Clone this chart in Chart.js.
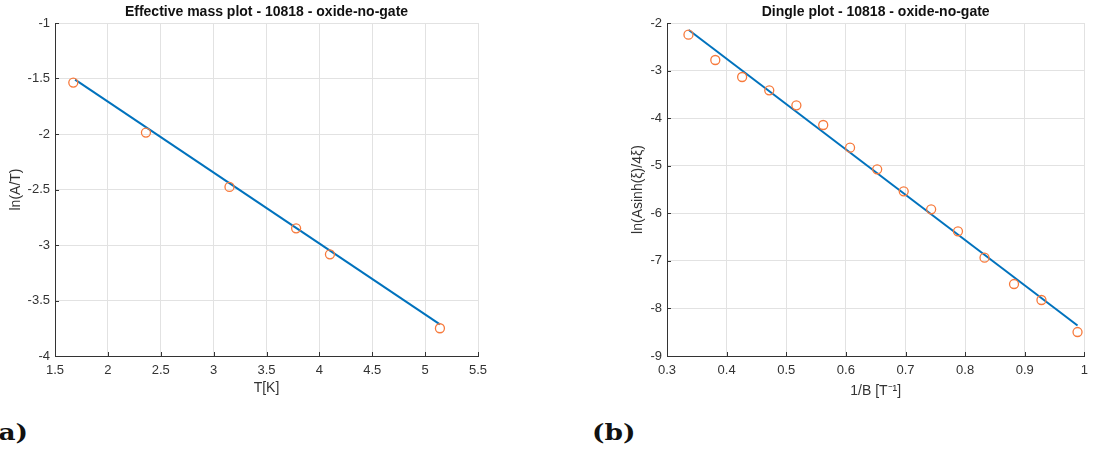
<!DOCTYPE html>
<html>
<head>
<meta charset="utf-8">
<script src="https://cdn.jsdelivr.net/npm/chart.js@4/dist/chart.umd.min.js"></script>
<style>
  html, body { margin: 0; padding: 0; background: #fff; overflow: hidden; }
  body { width: 1095px; height: 454px; position: relative; }
  .panel { position: absolute; top: 0; width: 500px; height: 410px; }
  .tag { position: absolute; font-family: "DejaVu Serif", serif; font-weight: bold; font-size: 22px; line-height: 22px; color: #111; transform: scaleX(1.2); transform-origin: left top; }
</style>
</head>
<body>
<div class="panel" style="left:0"><canvas id="massChart" width="500" height="410"></canvas></div>
<div class="panel" style="left:595px"><canvas id="dingleChart" width="500" height="410"></canvas></div>
<div class="tag" style="left:-14px; top:421px">(a)</div>
<div class="tag" style="left:592px; top:421px">(b)</div>
<script>
// effective mass plot (a)
const massT = [1.673, 2.36, 3.15, 3.78, 4.10, 5.14];
const massLnAT = [-1.537, -1.987, -2.477, -2.85, -3.084, -3.75];
const massFitT = [1.69, 5.14];
const massFitLn = [-1.51, -3.715];

// dingle plot (b)
const invB = [0.336, 0.381, 0.426, 0.4715, 0.517, 0.562, 0.607, 0.6525, 0.697, 0.743, 0.788, 0.8325, 0.882, 0.928, 0.9885];
const dingleLn = [-2.245, -2.778, -3.135, -3.415, -3.731, -4.144, -4.621, -5.076, -5.539, -5.917, -6.38, -6.933, -7.487, -7.823, -8.496];
const dingleFitX = [0.3365, 0.9885];
const dingleFitY = [-2.147, -8.36];

const axisColor = '#333333';
const gridColor = '#e2e2e2';
const lineBlue = '#0072BD';
const dotOrange = '#f77a3c';
const fontFam = '"Liberation Sans", Arial, sans-serif';

const toPts = (xs, ys) => xs.map((x, i) => ({x: x, y: ys[i]}));

// MATLAB style inward tick marks on the left and bottom axis
const innerTicks = {
  id: 'innerTicks',
  afterDraw(chart) {
    const {ctx, chartArea: a, scales} = chart;
    ctx.save();
    ctx.strokeStyle = axisColor;
    ctx.lineWidth = 1;
    ctx.beginPath();
    scales.x.ticks.forEach(t => {
      const px = Math.round(scales.x.getPixelForValue(t.value)) + 0.5;
      ctx.moveTo(px, a.bottom);
      ctx.lineTo(px, a.bottom - 4);
    });
    scales.y.ticks.forEach(t => {
      const py = Math.round(scales.y.getPixelForValue(t.value)) + 0.5;
      ctx.moveTo(a.left, py);
      ctx.lineTo(a.left + 4, py);
    });
    ctx.stroke();
    ctx.restore();
  }
};

function makeChart(id, cfg) {
  const ctx = document.getElementById(id).getContext('2d');
  return new Chart(ctx, {
    type: 'scatter',
    data: {
      datasets: [
        {
          data: toPts(cfg.xs, cfg.ys),
          borderColor: dotOrange,
          backgroundColor: 'rgba(0,0,0,0)',
          pointRadius: 4.5,
          pointBorderWidth: 1.3,
          order: 0
        },
        {
          data: toPts(cfg.fitX, cfg.fitY),
          showLine: true,
          borderColor: lineBlue,
          borderWidth: 2,
          pointRadius: 0,
          order: 1
        }
      ]
    },
    options: {
      responsive: false,
      animation: false,
      layout: {padding: {left: 0, right: cfg.padRight, top: 0, bottom: 0}},
      plugins: {
        legend: {display: false},
        tooltip: {enabled: false},
        title: {
          display: true,
          text: cfg.title,
          fullSize: false,
          color: '#111',
          font: {family: fontFam, size: 14, weight: 'bold'},
          padding: {top: 3.6, bottom: 2.6}
        }
      },
      scales: {
        x: {
          type: 'linear',
          min: cfg.xMin, max: cfg.xMax,
          afterFit: s => { s.height = 54; },
          ticks: {
            stepSize: cfg.xStep,
            padding: 7,
            color: axisColor,
            font: {family: fontFam, size: 13},
            maxRotation: 0,
            callback: v => String(+v.toFixed(2))
          },
          grid: {color: gridColor, drawTicks: false},
          border: {color: axisColor, width: 1},
          title: {
            display: true,
            text: cfg.xTitle,
            color: axisColor,
            font: {family: fontFam, size: 14},
            padding: {top: 0, bottom: cfg.xTitlePad}
          }
        },
        y: {
          type: 'linear',
          min: cfg.yMin, max: cfg.yMax,
          afterFit: s => { s.width = cfg.yWidth; },
          ticks: {
            stepSize: cfg.yStep,
            padding: 5,
            color: axisColor,
            font: {family: fontFam, size: 13},
            callback: v => String(+v.toFixed(2))
          },
          grid: {color: gridColor, drawTicks: false},
          border: {color: axisColor, width: 1},
          title: {
            display: true,
            text: cfg.yTitle,
            color: axisColor,
            font: {family: fontFam, size: 14},
            padding: {top: cfg.yTitlePad, bottom: 0}
          }
        }
      }
    },
    plugins: [innerTicks]
  });
}

makeChart('massChart', {
  xs: massT, ys: massLnAT, fitX: massFitT, fitY: massFitLn,
  title: 'Effective mass plot - 10818 - oxide-no-gate',
  xMin: 1.5, xMax: 5.5, xStep: 0.5, xTitle: 'T[K]', xTitlePad: 13.6,
  yMin: -4, yMax: -1, yStep: 0.5, yTitle: 'ln(A/T)', yTitlePad: 7.4,
  yWidth: 55, padRight: 22
});

makeChart('dingleChart', {
  xs: invB, ys: dingleLn, fitX: dingleFitX, fitY: dingleFitY,
  title: 'Dingle plot - 10818 - oxide-no-gate',
  xMin: 0.3, xMax: 1, xStep: 0.1, xTitle: '1/B [T\u207B\u00B9]', xTitlePad: 10.6,
  yMin: -9, yMax: -2, yStep: 1, yTitle: 'ln(Asinh(\u03BE)/4\u03BE)', yTitlePad: 34.3,
  yWidth: 72, padRight: 6
});
</script>
</body>
</html>
